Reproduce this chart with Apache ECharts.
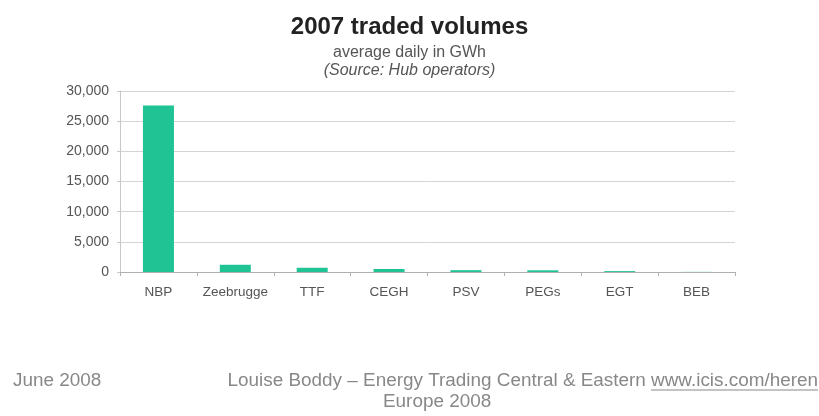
<!DOCTYPE html>
<html>
<head>
<meta charset="utf-8">
<script src="https://cdn.jsdelivr.net/npm/echarts@6/dist/echarts.min.js"></script>
<style>
  html, body { margin: 0; padding: 0; background: #fff; }
  #main { width: 819px; height: 416px; }
</style>
</head>
<body>
<div id="main"></div>
<script>
var hubs = ['NBP', 'Zeebrugge', 'TTF', 'CEGH', 'PSV', 'PEGs', 'EGT', 'BEB'];
var volumes = [27600, 1200, 700, 500, 300, 280, 150, 20];
var yMin = 0, yMax = 30000, yStep = 5000;

var myChart = echarts.init(document.getElementById('main'));
myChart.setOption({
    animation: false,
    title: [{
        text: '2007 traded volumes',
        left: 'center',
        top: 10,
        textStyle: { fontFamily: 'Liberation Sans', fontSize: 24, fontWeight: 'bold', color: '#222' }
    }, {
        text: 'average daily in GWh',
        left: 'center',
        top: 40,
        textStyle: { fontFamily: 'Liberation Sans', fontSize: 16, fontWeight: 'normal', color: '#555' }
    }, {
        text: '(Source: Hub operators)',
        left: 'center',
        top: 58,
        textStyle: { fontFamily: 'Liberation Sans', fontSize: 16, fontStyle: 'italic', fontWeight: 'normal', color: '#555' }
    }],
    grid: { left: 120, right: 84, top: 91, bottom: 144 },
    xAxis: {
        type: 'category',
        data: hubs,
        axisLine: { lineStyle: { color: '#b0b0b0', width: 1 } },
        axisTick: { show: true, alignWithLabel: false, length: 4, lineStyle: { color: '#b0b0b0' } },
        axisLabel: { interval: 0, fontFamily: 'Liberation Sans', fontSize: 13.5, color: '#555', margin: 13 }
    },
    yAxis: {
        type: 'value',
        min: yMin,
        max: yMax,
        interval: yStep,
        axisLine: { show: true, lineStyle: { color: '#c8c8c8' } },
        axisTick: { show: true, length: 3, lineStyle: { color: '#c8c8c8' } },
        axisLabel: {
            fontFamily: 'Liberation Sans', fontSize: 14, color: '#555', margin: 11,
            formatter: function (v) { return v.toLocaleString('en-US'); }
        },
        splitLine: { lineStyle: { color: '#d4d4d4', width: 1 } }
    },
    series: [{
        type: 'bar',
        data: volumes,
        barWidth: 31,
        itemStyle: { color: '#1fc394' }
    }],
    graphic: [{
        type: 'text', x: 13, y: 381,
        style: { text: 'June 2008', font: '18.9px "Liberation Sans"', fill: '#888', verticalAlign: 'middle' }
    }, {
        type: 'text', x: 818, y: 381,
        style: { text: 'Louise Boddy \u2013 Energy Trading Central & Eastern www.icis.com/heren', font: '18.9px "Liberation Sans"', fill: '#888', verticalAlign: 'middle', align: 'right' }
    }, {
        type: 'text', x: 383, y: 402,
        style: { text: 'Europe 2008', font: '18.9px "Liberation Sans"', fill: '#888', verticalAlign: 'middle' }
    }, {
        type: 'line', shape: { x1: 651, y1: 390, x2: 818, y2: 390 },
        style: { stroke: '#888', lineWidth: 1 }
    }]
});
</script>
</body>
</html>
